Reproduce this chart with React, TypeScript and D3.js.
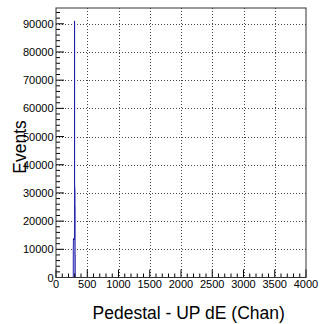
import React from "react";
import * as d3 from "d3";

const binStarts = [276, 278, 280, 282, 284, 286, 288, 290, 292, 294, 296, 298, 300, 302, 304, 306];
const binCounts = [11000, 13500, 13700, 13600, 13800, 13400, 13700, 13600, 13500, 13800, 91000, 32500, 32000, 31000, 25000, 8000];
const binWidth = 2;
const xTicks = [0, 500, 1000, 1500, 2000, 2500, 3000, 3500, 4000];
const yTicks = [0, 10000, 20000, 30000, 40000, 50000, 60000, 70000, 80000, 90000];
const xTitle = "Pedestal - UP dE (Chan)";
const yTitle = "Events";

const W = 321, H = 324;
const L = 56, R = 306, T = 8, B = 277.5;
const font = "Liberation Sans, Arial, Helvetica, sans-serif";

export default function App() {
  const x = d3.scaleLinear().domain([0, 4000]).range([L, R]);
  const y = d3.scaleLinear().domain([0, 95600]).range([B, T]);
  const pts: [number, number][] = [];
  binStarts.forEach((s, i) => {
    pts.push([s, binCounts[i]]);
  });
  pts.push([binStarts[binStarts.length - 1] + binWidth, 0]);
  const area = d3.area<[number, number]>().x(d => x(d[0])).y0(y(0)).y1(d => y(d[1])).curve(d3.curveStepAfter);
  const line = d3.line<[number, number]>().x(d => x(d[0])).y(d => y(d[1])).curve(d3.curveStepAfter);
  const linePts: [number, number][] = [[binStarts[0], 0], ...pts];
  const xMinor = d3.range(0, 4001, 100);
  const yMinor = d3.range(0, 95600, 2000);
  return (
    <svg width={W} height={H} style={{ position: "absolute", left: 0, top: 0, background: "#fff" }}>
      <rect x={0} y={0} width={W} height={H} fill="#fff" />
      {/* grid */}
      {xTicks.slice(1, -1).map(t => (
        <line key={"gx" + t} x1={Math.round(x(t)) + 0.5} x2={Math.round(x(t)) + 0.5} y1={T} y2={B} stroke="#444" strokeWidth={1} strokeDasharray="1 2" />
      ))}
      {yTicks.slice(1).map(t => (
        <line key={"gy" + t} x1={L} x2={R} y1={Math.round(y(t)) + 0.5} y2={Math.round(y(t)) + 0.5} stroke="#444" strokeWidth={1} strokeDasharray="1 2" />
      ))}
      {/* histogram */}
      <path d={area(pts) || ""} fill="#9c9cdc" stroke="none" />
      <path d={line(linePts) || ""} fill="none" stroke="#1c1ca8" strokeWidth={0.9} />
      {/* ticks */}
      {xMinor.map(t => {
        const major = t % 500 === 0;
        return <line key={"xt" + t} x1={x(t)} x2={x(t)} y1={B} y2={B - (major ? 8 : 4)} stroke="#000" strokeWidth={1} />;
      })}
      {yMinor.map(t => {
        const major = t % 10000 === 0;
        return <line key={"yt" + t} x1={L} x2={L + (major ? 8 : 4)} y1={y(t)} y2={y(t)} stroke="#000" strokeWidth={1} />;
      })}
      {/* frame */}
      <rect x={L} y={T} width={R - L} height={B - T} fill="none" stroke="#333" strokeWidth={1} />
      {/* labels */}
      {xTicks.map(t => (
        <text key={"xl" + t} x={x(t)} y={288} fontSize={11} fontFamily={font} textAnchor="middle" fill="#000">{t}</text>
      ))}
      {yTicks.map(t => (
        <text key={"yl" + t} x={53.5} y={y(t) + 4} fontSize={11} fontFamily={font} textAnchor="end" fill="#000">{t}</text>
      ))}
      <text x={188.7} y={318.5} fontSize={17.5} fontFamily={font} textAnchor="middle" fill="#000">{xTitle}</text>
      <text transform={`translate(26,147) rotate(-90)`} fontSize={17.5} fontFamily={font} textAnchor="middle" fill="#000">{yTitle}</text>
    </svg>
  );
}
